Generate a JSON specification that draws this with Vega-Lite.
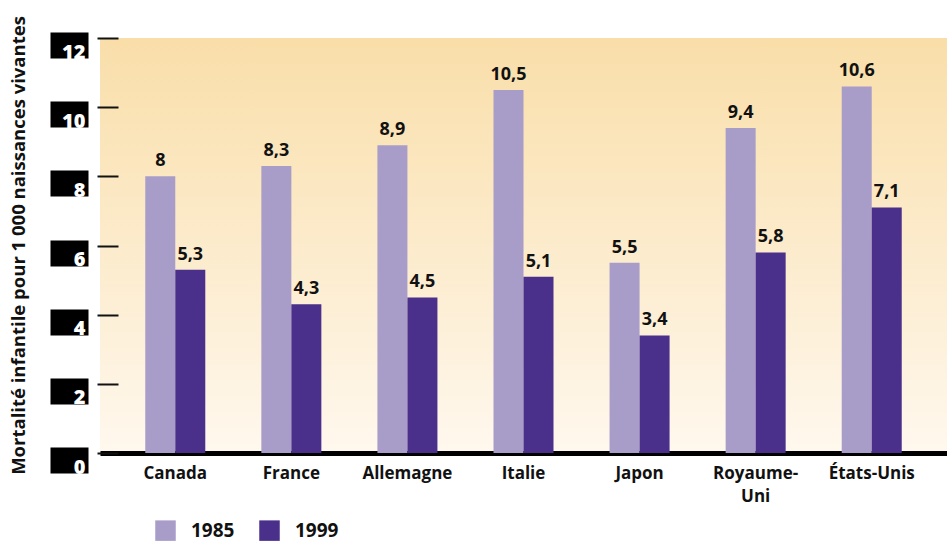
{
  "$schema": "https://vega.github.io/schema/vega-lite/v6.json",
  "width": 847,
  "height": 415,
  "autosize": {"type": "none"},
  "padding": {"left": 100, "top": 38, "right": 0, "bottom": 93},
  "background": "white",
  "config": {
    "locale": {"number": {"decimal": ",", "thousands": " ", "grouping": [3], "currency": ["", " €"]}},
    "font": "Open Sans",
    "view": {
      "stroke": null,
      "fill": {
        "gradient": "linear", "x1": 0, "y1": 0, "x2": 0, "y2": 1,
        "stops": [{"offset": 0, "color": "#f9dea9"}, {"offset": 1, "color": "#fff8ee"}]
      }
    }
  },
  "data": {
    "values": [
      {"pays": "Canada", "annee": "1985", "v": 8},
      {"pays": "Canada", "annee": "1999", "v": 5.3},
      {"pays": "France", "annee": "1985", "v": 8.3},
      {"pays": "France", "annee": "1999", "v": 4.3},
      {"pays": "Allemagne", "annee": "1985", "v": 8.9},
      {"pays": "Allemagne", "annee": "1999", "v": 4.5},
      {"pays": "Italie", "annee": "1985", "v": 10.5},
      {"pays": "Italie", "annee": "1999", "v": 5.1},
      {"pays": "Japon", "annee": "1985", "v": 5.5},
      {"pays": "Japon", "annee": "1999", "v": 3.4},
      {"pays": "Royaume-Uni", "annee": "1985", "v": 9.4},
      {"pays": "Royaume-Uni", "annee": "1999", "v": 5.8},
      {"pays": "États-Unis", "annee": "1985", "v": 10.6},
      {"pays": "États-Unis", "annee": "1999", "v": 7.1}
    ]
  },
  "encoding": {
    "x": {
      "field": "pays", "type": "nominal", "sort": null,
      "scale": {"paddingInner": 0.483, "paddingOuter": 0.39},
      "axis": {
        "title": null, "ticks": false, "labelAngle": 0,
        "domainColor": "black", "domainWidth": 5,
        "labelFont": "Open Sans", "labelFontWeight": "bold", "labelFontSize": 17,
        "labelColor": "#111", "labelPadding": 12, "labelLineHeight": 23,
        "labelExpr": "datum.label == 'Royaume-Uni' ? ['Royaume-', 'Uni'] : datum.label"
      }
    },
    "xOffset": {"field": "annee", "type": "nominal"}
  },
  "layer": [
    {
      "mark": {"type": "bar"},
      "encoding": {
        "y": {
          "field": "v", "type": "quantitative",
          "scale": {"domain": [0, 12], "nice": false},
          "axis": {
            "orient": "left", "values": [0, 2, 4, 6, 8, 10, 12], "grid": false,
            "domain": false, "offset": 12,
            "tickSize": 38, "tickWidth": 26, "tickColor": "black", "tickOffset": 7, "tickCap": "butt",
            "labelColor": "white", "labelFont": "Open Sans", "labelFontWeight": 800, "labelFontSize": 20,
            "labelPadding": -35, "labelOffset": 7, "labelAlign": "right", "labelBaseline": "middle",
            "title": "Mortalité infantile pour 1 000 naissances vivantes",
            "titleFont": "Open Sans", "titleFontWeight": "bold", "titleFontSize": 18.5, "titleColor": "#111",
            "titleAngle": 270, "titleX": -70, "titleY": 207, "titleAlign": "center", "titleBaseline": "middle"
          }
        },
        "color": {
          "field": "annee", "type": "nominal",
          "scale": {"range": ["#a89cc8", "#4a2f8b"]},
          "legend": {
            "title": null, "orient": "none", "direction": "horizontal",
            "legendX": 55, "legendY": 482, "symbolType": "square", "symbolSize": 420,
            "symbolStrokeWidth": 0, "labelFont": "Open Sans", "labelFontWeight": "bold", "labelFontSize": 19,
            "labelColor": "#111", "columnPadding": 24, "labelOffset": 15
          }
        }
      }
    },
    {
      "mark": {"type": "text", "baseline": "bottom", "dy": -6, "fontWeight": "bold", "fontSize": 18, "font": "Open Sans", "color": "#111"},
      "encoding": {
        "y": {
          "field": "v", "type": "quantitative",
          "axis": {
            "orient": "left", "values": [0, 2, 4, 6, 8, 10, 12], "grid": false,
            "domain": false, "labels": false, "title": null, "offset": 3,
            "tickSize": -21, "tickWidth": 2, "tickColor": "#111"
          }
        },
        "text": {"field": "v", "type": "quantitative", "format": "~g"}
      }
    }
  ],
  "resolve": {"axis": {"y": "independent"}}
}
